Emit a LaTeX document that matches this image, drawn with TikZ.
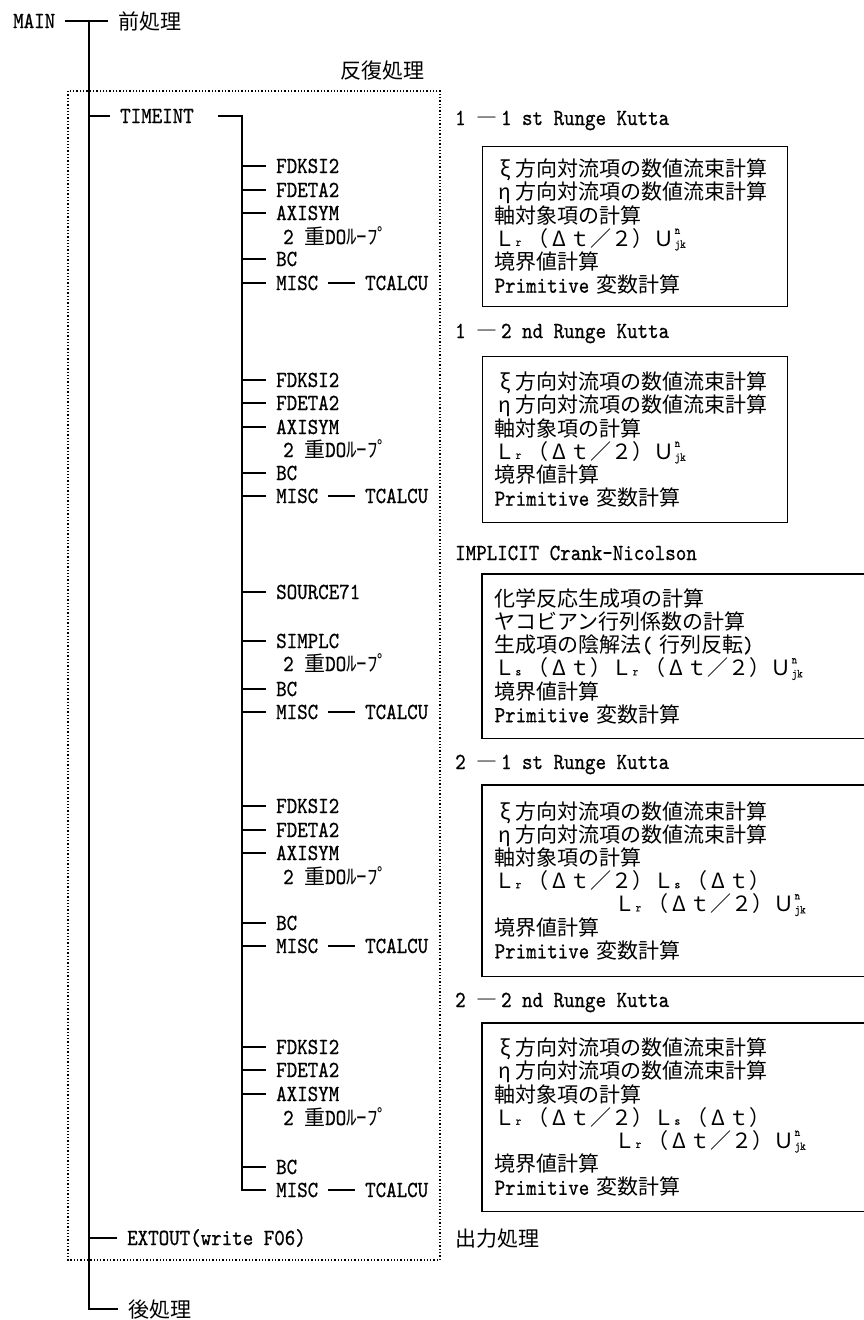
\documentclass[tikz,border=0pt]{standalone}
\usepackage{fontspec}
\newfontfamily\cjk{Noto Sans CJK JP}
\newfontfamily\ltt{lmmono10-regular.otf}[FakeStretch=0.87,FakeBold=0.7]
\newcommand\latf{\ltt\fontsize{23}{23.2}\selectfont}
\newcommand\jpf{\cjk\fontsize{21}{23.2}\selectfont}
\newcommand\smf{\ltt\fontsize{12}{12}\selectfont}
\newcommand\sbs[1]{\makebox[12pt][l]{\raisebox{0.5pt}{\smf #1}}}
\newcommand\unjk{\makebox[0pt][l]{\raisebox{12.5pt}{\smf n}}\raisebox{-1.5pt}{\smf jk}}
\newcommand\fw[1]{\makebox[21pt]{#1}}
\newcommand\myLr{Ｌ\sbs{r}}
\newcommand\myLs{Ｌ\sbs{s}}
\newcommand\myDt{\fw{Δ}ｔ}
\begin{document}
\begin{tikzpicture}[x=1pt,y=-1pt,
  tt/.style={font=\latf, inner xsep=10pt, inner ysep=0pt, text height=14pt, text depth=0pt, anchor=base west},
  jp/.style={font=\jpf, inner xsep=10pt, inner ysep=0pt, text height=16pt, text depth=0pt, anchor=base west},
  conn/.style={line width=1.3pt},
  box/.style={draw, line width=1.4pt, anchor=north west, inner xsep=12pt, inner ysep=0pt, align=left, font=\jpf},
  openbox/.style={box, draw=none},
  frame/.style={dotted, line width=1.3pt}]
\useasboundingbox (0,0) rectangle (863,1320);

% frame of the iteration
\draw[frame] (68,91) rectangle (440,1260);

% main tree
\node[tt] (main) at (3,28) {MAIN};
\node[jp] (pre) at (108,29) {前処理};
\node[jp] (hanpuku) at (330,78) {反復処理};
\node[tt] (tim) at (110,123) {TIMEINT};
\node[tt] (ext) at (117,1245) {EXTOUT(write F06)};
\node[jp] (post) at (118,1317) {後処理};
\node[jp] (outp) at (445,1246) {出力処理};
\coordinate (tk) at (89,0);
\coordinate (st) at (242,0);

% group 1
\node[tt] (a1) at (266,173) {FDKSI2};
\node[tt] (a2) at (266,197) {FDETA2};
\node[tt] (a3) at (266,220) {AXISYM};
\node[tt] (a4) at (273,244) {2 {\jpf 重}DO{\jpf ﾙｰﾌﾟ}};
\node[tt] (a5) at (266,266) {BC};
\node[tt] (a6) at (266,290) {MISC};
\node[tt] (a7) at (355,290) {TCALCU};
% group 2
\node[tt] (c1) at (266,387) {FDKSI2};
\node[tt] (c2) at (266,410) {FDETA2};
\node[tt] (c3) at (266,434) {AXISYM};
\node[tt] (c4) at (273,457) {2 {\jpf 重}DO{\jpf ﾙｰﾌﾟ}};
\node[tt] (c5) at (266,480) {BC};
\node[tt] (c6) at (266,503) {MISC};
\node[tt] (c7) at (355,503) {TCALCU};
% group 3
\node[tt] (d1) at (266,599) {SOURCE71};
\node[tt] (d2) at (266,648) {SIMPLC};
\node[tt] (d3) at (273,671) {2 {\jpf 重}DO{\jpf ﾙｰﾌﾟ}};
\node[tt] (d4) at (266,696) {BC};
\node[tt] (d5) at (266,719) {MISC};
\node[tt] (d6) at (355,719) {TCALCU};
% group 4
\node[tt] (e1) at (266,813) {FDKSI2};
\node[tt] (e2) at (266,837) {FDETA2};
\node[tt] (e3) at (266,860) {AXISYM};
\node[tt] (e4) at (273,884) {2 {\jpf 重}DO{\jpf ﾙｰﾌﾟ}};
\node[tt] (e5) at (266,930) {BC};
\node[tt] (e6) at (266,953) {MISC};
\node[tt] (e7) at (355,953) {TCALCU};
% group 5
\node[tt] (f1) at (266,1054) {FDKSI2};
\node[tt] (f2) at (266,1077) {FDETA2};
\node[tt] (f3) at (266,1101) {AXISYM};
\node[tt] (f4) at (273,1125) {2 {\jpf 重}DO{\jpf ﾙｰﾌﾟ}};
\node[tt] (f5) at (266,1174) {BC};
\node[tt] (f6) at (266,1197) {MISC};
\node[tt] (f7) at (355,1197) {TCALCU};

% right-hand labels
\node[tt] (l1) at (445,125) {1 {\jpf ―}\,1 st Runge Kutta};
\node[tt] (l2) at (445,338) {1 {\jpf ―}\,2 nd Runge Kutta};
\node[tt] (l3) at (445,560) {IMPLICIT Crank-Nicolson};
\node[tt] (l4) at (445,769) {2 {\jpf ―}\,1 st Runge Kutta};
\node[tt] (l5) at (445,1007) {2 {\jpf ―}\,2 nd Runge Kutta};

% boxes
\node[box, minimum width=305pt, minimum height=160pt, text width=281pt] (bx1) at (482,146)
 {\fw{ξ}方向対流項の数値流束計算\\\fw{η}方向対流項の数値流束計算\\軸対象項の計算\\\myLr（\myDt／２）Ｕ\unjk\\境界値計算\\{\latf Primitive }変数計算};
\node[box, minimum width=305pt, minimum height=166pt, text width=281pt] (bx2) at (482,356)
 {\fw{ξ}方向対流項の数値流束計算\\\fw{η}方向対流項の数値流束計算\\軸対象項の計算\\\myLr（\myDt／２）Ｕ\unjk\\境界値計算\\{\latf Primitive }変数計算};
\node[openbox, minimum width=381pt, minimum height=163pt, text width=357pt] (bx3) at (482,574)
 {化学反応生成項の計算\\ヤコビアン行列係数の計算\\生成項の陰解法{\latf( }行列反転{\latf)}\\\myLs（\myDt）\myLr（\myDt／２）Ｕ\unjk\\境界値計算\\{\latf Primitive }変数計算};
\node[openbox, minimum width=381pt, minimum height=190pt, text width=357pt] (bx4) at (482,785)
 {\fw{ξ}方向対流項の数値流束計算\\\fw{η}方向対流項の数値流束計算\\軸対象項の計算\\\myLr（\myDt／２）\myLs（\myDt）\\\hspace*{120pt}\myLr（\myDt／２）Ｕ\unjk\\境界値計算\\{\latf Primitive }変数計算};
\node[openbox, minimum width=381pt, minimum height=187pt, text width=357pt] (bx5) at (482,1023)
 {\fw{ξ}方向対流項の数値流束計算\\\fw{η}方向対流項の数値流束計算\\軸対象項の計算\\\myLr（\myDt／２）\myLs（\myDt）\\\hspace*{120pt}\myLr（\myDt／２）Ｕ\unjk\\境界値計算\\{\latf Primitive }変数計算};
\foreach \b in {bx3,bx4,bx5}
  \draw[line width=1.4pt] (\b.north east) -- (\b.north west) -- (\b.south west) -- (\b.south east);

% connectors
\draw[conn] (main.east) -- (main.east -| pre.west);
\draw[conn] (tk |- main.east) -- (tk |- post.west) -- (post.west);
\draw[conn] (tk |- tim.west) -- (tim.west);
\draw[conn] (tk |- ext.west) -- (ext.west);
\draw[conn] ([xshift=14pt]tim.east) -- (st |- tim.east) -- (st |- f6.west) -- (f6.west);
\foreach \n in {a1,a2,a3,a5,a6,c1,c2,c3,c5,c6,d1,d2,d4,d5,e1,e2,e3,e5,e6,f1,f2,f3,f5}
  \draw[conn] (st |- \n.west) -- (\n.west);
\draw[conn] (a6.east) -- (a7.west);
\draw[conn] (c6.east) -- (c7.west);
\draw[conn] (d5.east) -- (d6.west);
\draw[conn] (e6.east) -- (e7.west);
\draw[conn] (f6.east) -- (f7.west);
\end{tikzpicture}
\end{document}
